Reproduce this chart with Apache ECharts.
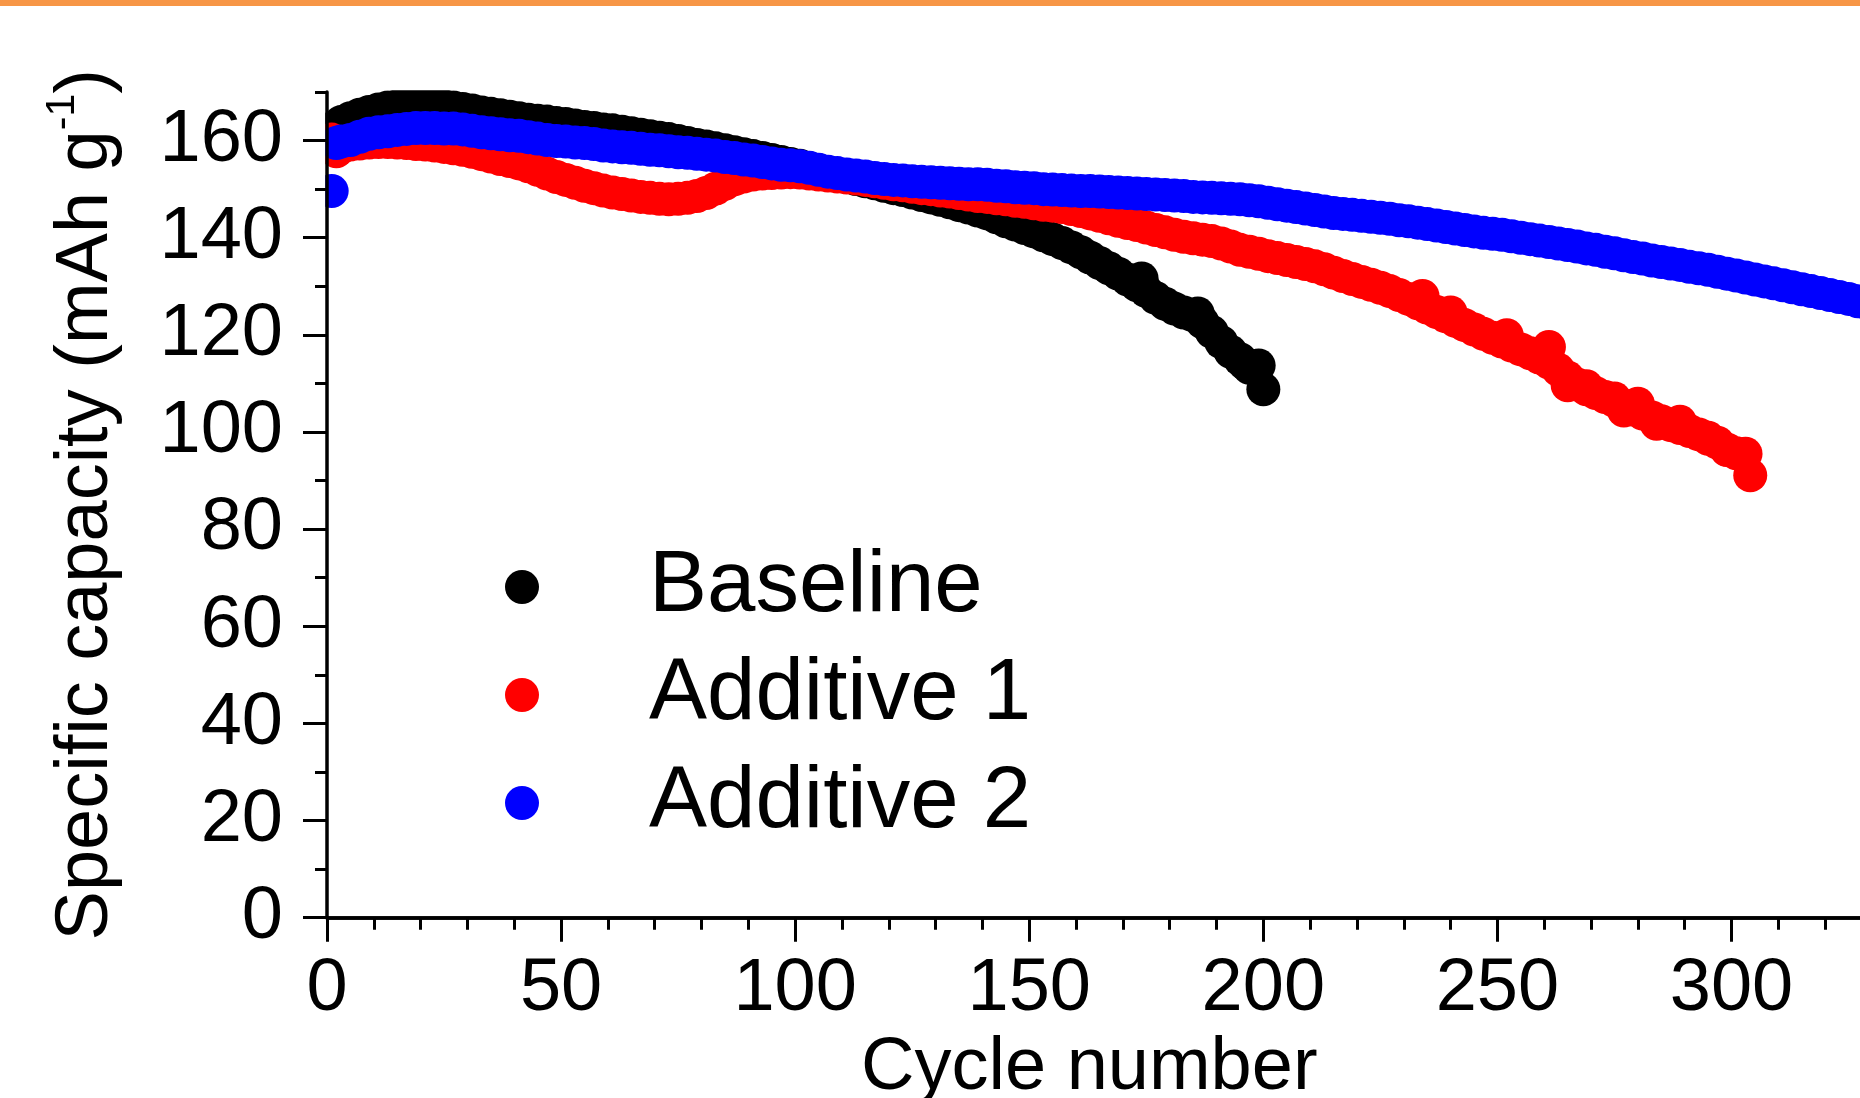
<!DOCTYPE html>
<html>
<head>
<meta charset="utf-8">
<title>Specific capacity vs cycle number</title>
<script src="https://cdn.jsdelivr.net/npm/echarts@6/dist/echarts.min.js"></script>
<style>
    html, body { margin: 0; padding: 0; background: #fff; }
    #chart_capacity { width: 1860px; height: 1098px; }
</style>
</head>
<body>
<div id="chart_capacity"></div>
<script>
var FONT = "'Liberation Sans', Arial, sans-serif";

var series_names = ['Baseline', 'Additive 1', 'Additive 2'];
var series_colors = ['#000000', '#ff0000', '#0000ff'];
var y_label_values = [0, 20, 40, 60, 80, 100, 120, 140, 160];

// [cycle, capacity (mAh/g)]
var baseline_data = [
    [1, 162.5], [3, 163.8], [5, 164.6], [7, 165.3], [9, 165.9], [11, 166.4], [13, 166.8], [15, 167.1], [17, 167.3], [19, 167.4],
    [21, 167.4], [23, 167.3], [25, 167.1], [27, 166.8], [29, 166.5], [31, 166.2], [33, 165.8], [35, 165.5], [37, 165.2], [39, 164.9],
    [41, 164.6], [43, 164.3], [45, 164.1], [47, 163.9], [49, 163.6], [51, 163.4], [53, 163.1], [55, 162.8], [57, 162.6], [59, 162.3],
    [61, 162.1], [63, 161.8], [65, 161.5], [67, 161.2], [69, 160.9], [71, 160.6], [73, 160.3], [75, 159.9], [77, 159.5], [79, 159.1],
    [81, 158.8], [83, 158.4], [85, 158.0], [87, 157.6], [89, 157.2], [91, 156.8], [93, 156.4], [95, 156.0], [97, 155.6], [99, 155.2],
    [101, 154.8], [103, 154.3], [105, 153.9], [107, 153.4], [109, 153.0], [111, 152.5], [113, 152.1], [115, 151.6], [117, 151.2], [119, 150.7],
    [121, 150.2], [123, 149.8], [125, 149.3], [127, 148.8], [129, 148.3], [131, 147.8], [133, 147.3], [135, 146.7], [137, 146.2], [139, 145.6],
    [141, 145.0], [143, 144.2], [145, 143.4], [147, 142.7], [149, 142.0], [151, 141.3], [153, 140.5], [155, 139.7], [157, 138.9], [159, 138.0],
    [161, 137.0], [163, 135.9], [165, 134.8], [167, 133.7], [169, 132.6], [171, 131.4], [173, 130.2], [174, 131.6], [175, 129.0], [177, 127.6],
    [179, 126.4], [181, 125.4], [183, 124.6], [185, 124.0], [186, 124.4], [187, 122.6], [189, 120.6], [191, 118.5], [193, 116.5], [195, 115.0],
    [196, 114.1], [197, 113.2], [199, 113.7], [200, 108.8]
];

var additive1_data = [
    [1, 160.2], [2, 157.8], [3, 158.6], [5, 159.2], [7, 159.4], [9, 159.6], [11, 159.7], [13, 159.7], [15, 159.6], [17, 159.5],
    [19, 159.3], [21, 159.2], [23, 159.0], [25, 158.7], [27, 158.4], [29, 158.1], [31, 157.7], [33, 157.2], [35, 156.7], [37, 156.2],
    [39, 155.8], [41, 155.3], [43, 154.7], [45, 154.0], [47, 153.2], [49, 152.5], [51, 151.9], [53, 151.3], [55, 150.7], [57, 150.2],
    [59, 149.7], [61, 149.3], [63, 149.0], [65, 148.7], [67, 148.4], [69, 148.2], [71, 148.0], [73, 147.9], [75, 148.0], [77, 148.2],
    [79, 148.6], [81, 149.2], [83, 150.1], [85, 151.1], [87, 152.0], [89, 152.6], [91, 153.0], [93, 153.2], [95, 153.3], [97, 153.4],
    [99, 153.5], [101, 153.4], [103, 153.2], [105, 153.0], [107, 152.8], [109, 152.6], [111, 152.4], [113, 152.2], [115, 151.9], [117, 151.6],
    [119, 151.3], [121, 151.0], [123, 150.8], [125, 150.5], [127, 150.2], [129, 150.0], [131, 149.7], [133, 149.5], [135, 149.2], [137, 148.9],
    [139, 148.6], [141, 148.4], [143, 148.1], [145, 147.9], [147, 147.6], [149, 147.4], [151, 147.1], [153, 146.8], [155, 146.6], [157, 146.3],
    [159, 145.9], [161, 145.5], [163, 145.0], [165, 144.5], [167, 144.0], [169, 143.5], [171, 143.0], [173, 142.6], [175, 142.1], [177, 141.6],
    [179, 141.1], [181, 140.6], [183, 140.2], [185, 139.9], [187, 139.6], [189, 139.3], [191, 138.8], [193, 138.2], [195, 137.5], [197, 137.1],
    [199, 136.7], [201, 136.2], [203, 135.8], [205, 135.4], [207, 135.0], [209, 134.6], [211, 134.1], [213, 133.5], [215, 132.8], [217, 132.1],
    [219, 131.5], [221, 130.9], [223, 130.3], [225, 129.7], [227, 129.0], [229, 128.2], [231, 127.4], [233, 126.5], [234, 128.0], [235, 125.6],
    [237, 124.7], [239, 123.8], [240, 124.6], [241, 122.9], [243, 122.0], [245, 121.1], [247, 120.2], [249, 119.4], [251, 118.6], [252, 119.9],
    [253, 117.8], [255, 117.0], [257, 116.2], [259, 115.3], [261, 114.3], [261, 117.5], [263, 112.8], [265, 111.2], [265, 109.6], [267, 109.8],
    [269, 108.8], [269, 109.4], [271, 108.0], [273, 107.2], [275, 106.4], [275, 106.9], [277, 105.4], [277, 104.4], [279, 104.6], [280, 105.8],
    [281, 103.8], [283, 103.0], [284, 101.7], [285, 102.2], [287, 101.4], [289, 100.8], [289, 102.1], [291, 100.2], [293, 99.5], [295, 98.8],
    [295, 98.6], [297, 97.8], [299, 96.4], [299, 96.3], [301, 95.6], [303, 95.5], [304, 91.1]
];

var additive2_data = [
    [1, 149.6], [2, 159.5], [3, 159.8], [5, 160.1], [7, 160.8], [9, 161.4], [11, 161.7], [13, 161.9], [15, 162.2], [17, 162.4],
    [19, 162.6], [21, 162.6], [23, 162.6], [25, 162.5], [27, 162.5], [29, 162.3], [31, 162.0], [33, 161.7], [35, 161.5], [37, 161.3],
    [39, 161.1], [41, 161.0], [43, 160.7], [45, 160.4], [47, 160.1], [49, 159.9], [51, 159.8], [53, 159.6], [55, 159.5], [57, 159.3],
    [59, 159.0], [61, 158.8], [63, 158.6], [65, 158.5], [67, 158.3], [69, 158.1], [71, 158.0], [73, 157.8], [75, 157.6], [77, 157.5],
    [79, 157.3], [81, 157.1], [83, 156.9], [85, 156.6], [87, 156.4], [89, 156.1], [91, 155.9], [93, 155.6], [95, 155.3], [97, 155.0],
    [99, 154.9], [101, 154.7], [103, 154.4], [105, 154.0], [107, 153.6], [109, 153.3], [111, 153.0], [113, 152.8], [115, 152.6], [117, 152.3],
    [119, 152.1], [121, 151.9], [123, 151.8], [125, 151.6], [127, 151.5], [129, 151.4], [131, 151.3], [133, 151.2], [135, 151.1], [137, 151.0],
    [139, 151.0], [141, 150.9], [143, 150.7], [145, 150.6], [147, 150.4], [149, 150.3], [151, 150.2], [153, 150.0], [155, 149.9], [157, 149.8],
    [159, 149.7], [161, 149.6], [163, 149.6], [165, 149.5], [167, 149.4], [169, 149.3], [171, 149.2], [173, 149.1], [175, 149.0], [177, 148.9],
    [179, 148.8], [181, 148.7], [183, 148.6], [185, 148.4], [187, 148.3], [189, 148.2], [191, 148.1], [193, 148.0], [195, 147.9], [197, 147.7],
    [199, 147.5], [201, 147.2], [203, 146.9], [205, 146.6], [207, 146.3], [209, 146.0], [211, 145.7], [213, 145.4], [215, 145.1], [217, 144.9],
    [219, 144.7], [221, 144.5], [223, 144.3], [225, 144.1], [227, 143.9], [229, 143.6], [231, 143.4], [233, 143.1], [235, 142.8], [237, 142.5],
    [239, 142.2], [241, 141.9], [243, 141.6], [245, 141.3], [247, 141.0], [249, 140.8], [251, 140.6], [253, 140.3], [255, 140.0], [257, 139.7],
    [259, 139.4], [261, 139.1], [263, 138.8], [265, 138.5], [267, 138.2], [269, 137.8], [271, 137.5], [273, 137.1], [275, 136.8], [277, 136.4],
    [279, 136.0], [281, 135.7], [283, 135.3], [285, 135.0], [287, 134.7], [289, 134.4], [291, 134.0], [293, 133.7], [295, 133.4], [297, 133.0],
    [299, 132.6], [301, 132.2], [303, 131.8], [305, 131.4], [307, 131.0], [309, 130.6], [311, 130.2], [313, 129.8], [315, 129.4], [317, 129.0],
    [319, 128.6], [321, 128.2], [323, 127.8], [325, 127.4], [327, 126.9], [329, 126.5], [331, 126.1]
];

var chart_capacity = null;

initChart();

/**
 * 初始化图表
 */
function initChart() {
    chart_capacity = echarts.init(document.getElementById('chart_capacity'), null, { renderer: 'canvas' });
    var all_data = [baseline_data, additive1_data, additive2_data];
    var series = [];
    for (var i = 0; i < series_names.length; i++) {
        series.push({
            name: series_names[i],
            type: 'scatter',
            data: all_data[i],
            symbol: 'circle',
            symbolSize: 34,
            clip: false,
            xAxisIndex: 0,
            yAxisIndex: 0,
            itemStyle: { color: series_colors[i], opacity: 1 },
            emphasis: { disabled: true }
        });
    }

    var tick_line = { color: '#000', width: 3 };
    var option = {
        animation: false,
        backgroundColor: '#fff',
        // 绘图区右侧超出画布(原图被裁切), 不让标签压缩绘图区
        grid: { left: 327, top: 92, width: 1638.6, height: 825.6, containLabel: false, outerBoundsMode: 'none' },
        legend: {
            orient: 'vertical',
            left: 505,
            top: 543,
            padding: 0,
            itemWidth: 34,
            itemHeight: 34,
            itemGap: 20,
            icon: 'circle',
            selectedMode: false,
            data: series_names,
            textStyle: { fontFamily: FONT, fontSize: 87, lineHeight: 88, color: '#000', padding: [0, 0, 0, 105] }
        },
        xAxis: [{
            type: 'value',
            position: 'bottom',
            min: 0,
            max: 350,
            interval: 50,
            z: 10,
            name: 'Cycle number',
            nameLocation: 'middle',
            nameGap: 110,
            nameTextStyle: { fontFamily: FONT, fontSize: 74, lineHeight: 74, color: '#000', padding: [0, 114, 0, 0] },
            axisLine: { show: true, lineStyle: { color: '#000', width: 3.5 } },
            axisTick: { show: true, length: 24, lineStyle: tick_line },
            minorTick: { show: true, splitNumber: 5, length: 12, lineStyle: tick_line },
            axisLabel: { fontFamily: FONT, fontSize: 74, color: '#000', margin: 35 },
            splitLine: { show: false }
        }, {
            type: 'value',
            position: 'top',
            min: 0,
            max: 350,
            interval: 50,
            axisLine: { show: true, lineStyle: { color: '#000', width: 3.5 } },
            axisTick: { show: true, inside: true, length: 24, lineStyle: tick_line },
            minorTick: { show: true, splitNumber: 5, length: 12, lineStyle: tick_line },
            axisLabel: { show: false },
            splitLine: { show: false }
        }],
        yAxis: [{
            type: 'value',
            position: 'left',
            min: 0,
            max: 170,
            interval: 20,
            z: 10,
            name: '{a|Specific capacity (mAh g}{b|-1}{a|)}',
            nameLocation: 'middle',
            nameGap: 195,
            nameTextStyle: {
                fontFamily: FONT,
                color: '#000',
                rich: {
                    a: { fontFamily: FONT, fontSize: 74, lineHeight: 90, color: '#000' },
                    b: { fontFamily: FONT, fontSize: 41, lineHeight: 41, color: '#000', verticalAlign: 'top' }
                }
            },
            axisLine: { show: true, lineStyle: { color: '#000', width: 3.5 } },
            axisTick: { show: true, length: 24, lineStyle: tick_line, customValues: y_label_values },
            axisLabel: { fontFamily: FONT, fontSize: 74, color: '#000', margin: 44, customValues: y_label_values },
            splitLine: { show: false }
        }, {
            // 次刻度(每10)
            type: 'value',
            position: 'left',
            min: 0,
            max: 170,
            interval: 10,
            z: 10,
            axisLine: { show: false },
            axisTick: { show: true, length: 12, lineStyle: tick_line },
            axisLabel: { show: false },
            splitLine: { show: false }
        }],
        graphic: [
            // 绘图区外的白色遮罩(裁掉溢出的圆点)
            { type: 'rect', silent: true, z: 5, shape: { x: 0, y: 0, width: 325.3, height: 1098 }, style: { fill: '#fff' } },
            { type: 'rect', silent: true, z: 5, shape: { x: 0, y: 0, width: 1860, height: 90.3 }, style: { fill: '#fff' } },
            // 顶部橙色条
            { type: 'rect', silent: true, z: 20, shape: { x: 0, y: 0, width: 1860, height: 6 }, style: { fill: '#f79646' } }
        ],
        series: series
    };
    chart_capacity.setOption(option);
}
</script>
</body>
</html>
